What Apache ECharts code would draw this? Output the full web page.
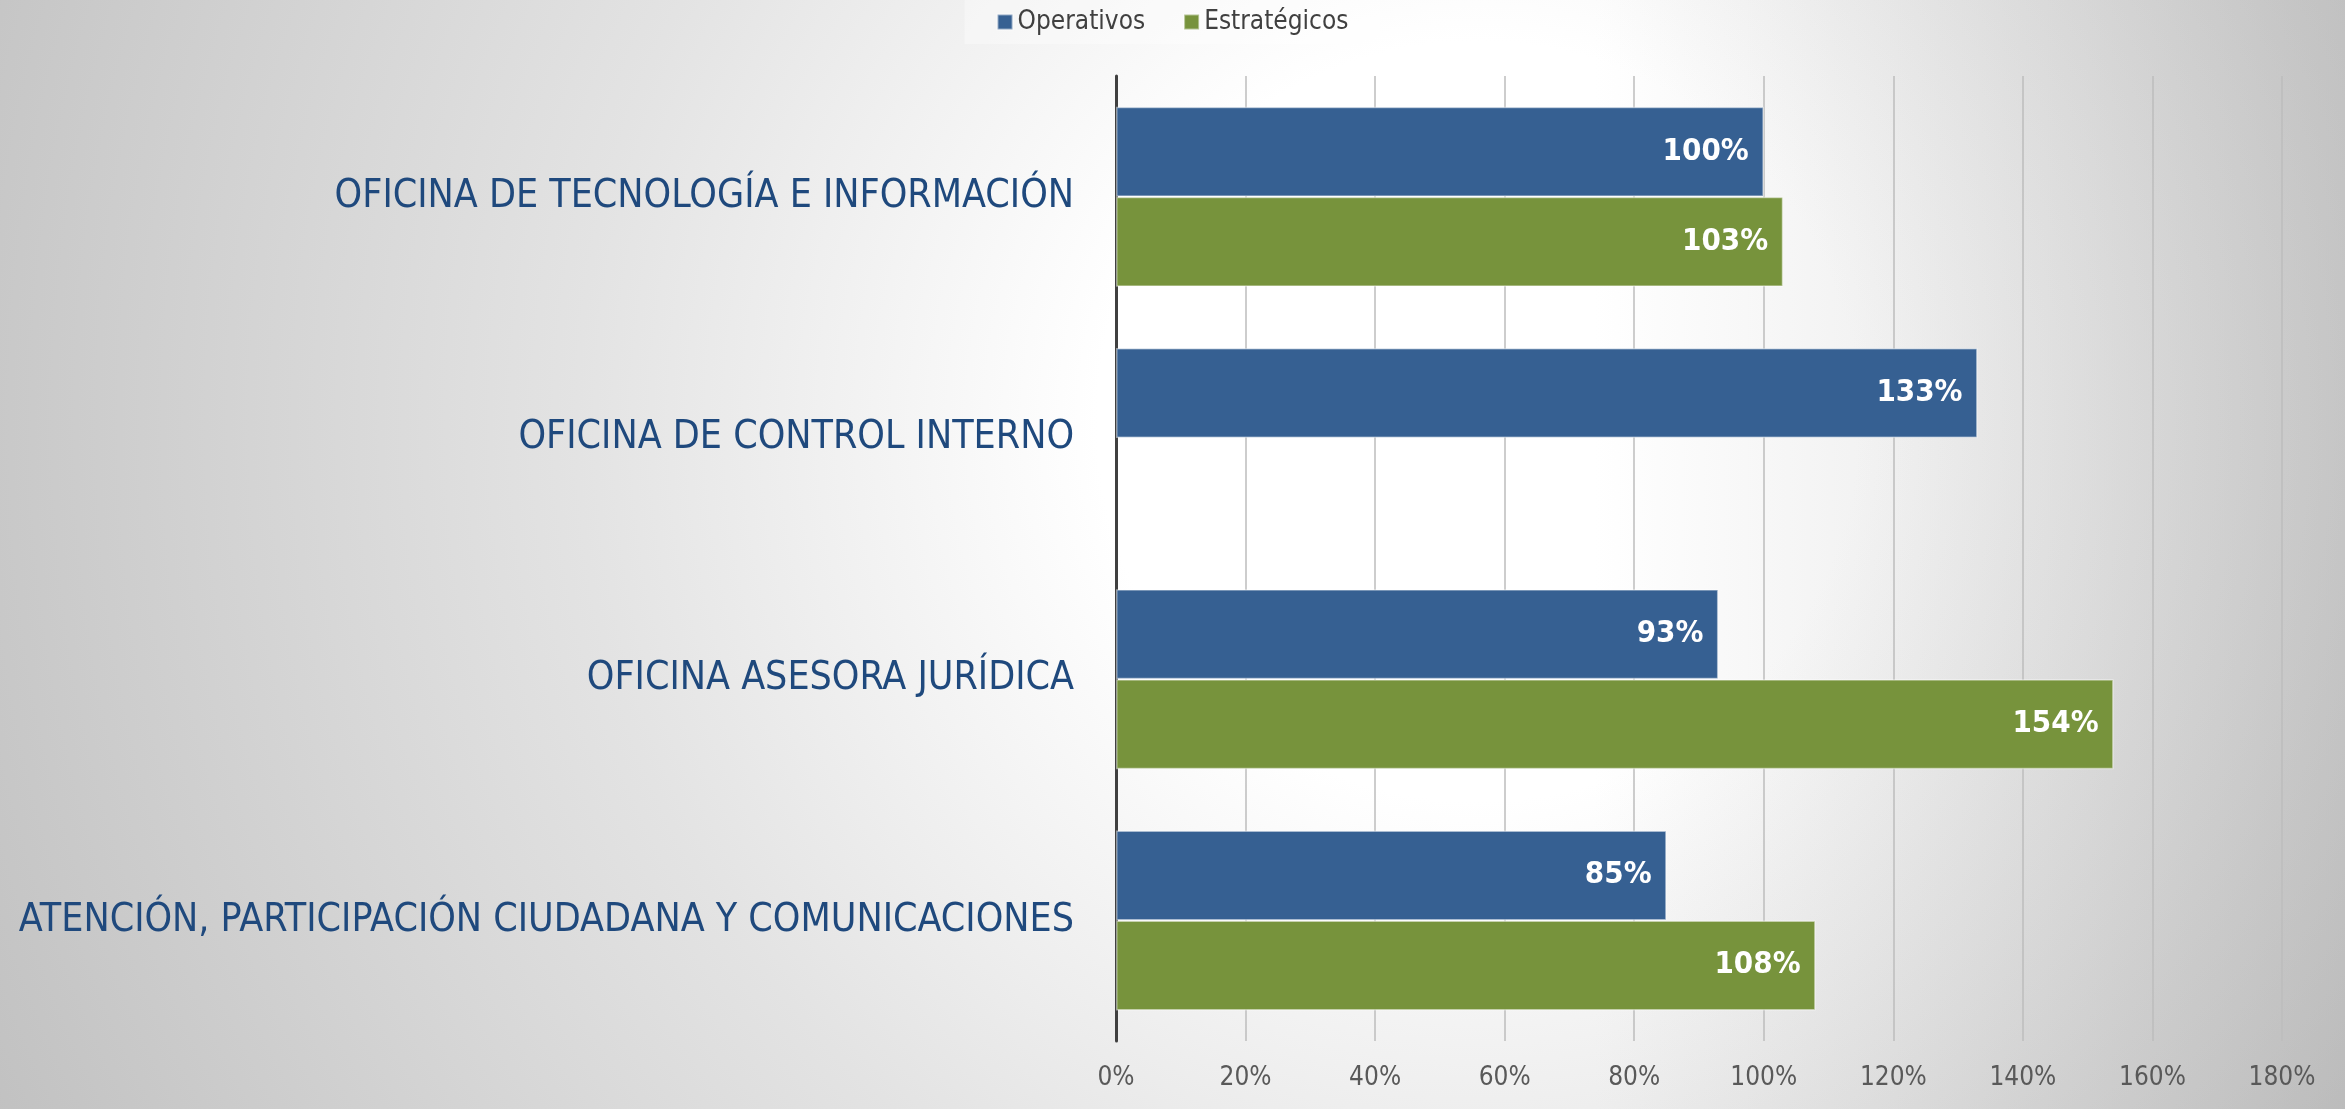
<!DOCTYPE html>
<html>
<head>
<meta charset="utf-8">
<title>Operativos vs Estratégicos</title>
<script src="https://cdn.jsdelivr.net/npm/echarts@6/dist/echarts.min.js"></script>
<style>
  html, body { margin: 0; padding: 0; }
  #chart {
    width: 2345px;
    height: 1109px;
    background-color: #fff;
    background-image:
      radial-gradient(circle at 63% 38%, #ffffff 0px, #ffffff 380px, #e3e3e3 900px, #bcbcbc 1750px),
      linear-gradient(to right, #ffffff 0%, #ffffff 68%, #dcdcdc 100%);
    background-blend-mode: multiply;
  }
</style>
</head>
<body>
<div id="chart"></div>
<script>
// categorías (de arriba hacia abajo)
const categories = [
  'OFICINA DE TECNOLOGÍA E INFORMACIÓN',
  'OFICINA DE CONTROL INTERNO',
  'OFICINA ASESORA JURÍDICA',
  'ATENCIÓN, PARTICIPACIÓN CIUDADANA Y COMUNICACIONES'
]
const seriesNames = ['Operativos', 'Estratégicos']
// valores en %
const operativos = [100, 133, 93, 85]
const estrategicos = [103, null, 154, 108]
const xTicks = [0, 20, 40, 60, 80, 100, 120, 140, 160, 180]

const fontFamily = '"DejaVu Sans Condensed", "DejaVu Sans", sans-serif'
const barColors = ['#366092', '#77933C']

const chart = echarts.init(document.getElementById('chart'))

const labelStyle = {
  show: true,
  position: 'insideRight',
  distance: 15,
  color: '#fff',
  fontWeight: 'bold',
  fontSize: 31,
  fontFamily: fontFamily,
  formatter: '{c}%',
}

const option = {
  animation: false,
  backgroundColor: 'transparent',
  color: barColors,
  textStyle: { fontFamily: fontFamily },
  legend: {
    top: 0,
    left: 'center',
    padding: [9, 32, 9, 32],
    backgroundColor: 'rgba(255,255,255,0.35)',
    itemWidth: 15,
    itemHeight: 15,
    itemGap: 38,
    icon: 'rect',
    textStyle: { color: '#404040', fontSize: 26, fontFamily: fontFamily },
    data: seriesNames,
  },
  grid: {
    left: 1116,
    right: 63,
    top: 76,
    bottom: 68,
    outerBoundsMode: 'none',
  },
  xAxis: {
    type: 'value',
    min: xTicks[0],
    max: xTicks[xTicks.length - 1],
    interval: xTicks[1] - xTicks[0],
    axisLine: { show: false },
    axisTick: { show: false },
    axisLabel: {
      color: '#595959',
      fontSize: 26,
      margin: 24,
      fontFamily: fontFamily,
      formatter: '{value}%',
    },
    splitLine: {
      show: true,
      lineStyle: { color: '#bdbdbd', width: 1.5 },
    },
  },
  yAxis: {
    type: 'category',
    inverse: true,
    data: categories,
    axisLine: {
      show: true,
      lineStyle: { color: '#404040', width: 3 },
    },
    axisTick: { show: false },
    splitLine: { show: false },
    axisLabel: {
      color: '#1F497D',
      fontSize: 39,
      margin: 42,
      fontFamily: fontFamily,
    },
  },
  series: [
    {
      name: seriesNames[0],
      type: 'bar',
      data: operativos,
      barWidth: 90,
      barGap: '0%',
      itemStyle: { borderColor: 'rgba(255,255,255,0.45)', borderWidth: 1.5 },
      label: labelStyle,
    },
    {
      name: seriesNames[1],
      type: 'bar',
      data: estrategicos,
      barWidth: 90,
      barGap: '0%',
      itemStyle: { borderColor: 'rgba(255,255,255,0.45)', borderWidth: 1.5 },
      label: labelStyle,
    },
  ],
}

chart.setOption(option)
</script>
</body>
</html>
